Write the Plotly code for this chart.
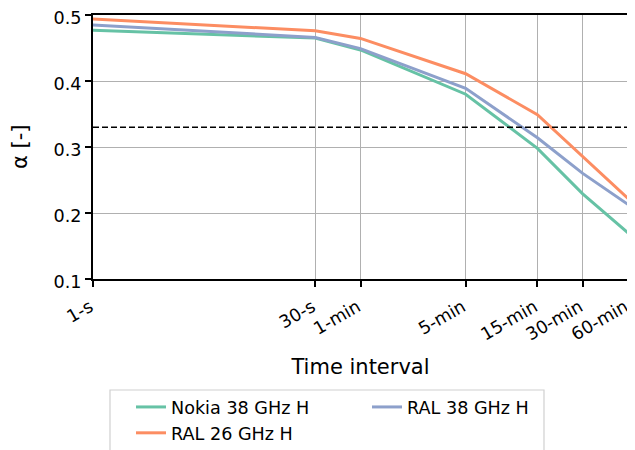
import plotly.graph_objects as go
import math

intervals_s = [1, 30, 60, 300, 900, 1800, 3600]
tick_labels = ["1-s", "30-s", "1-min", "5-min", "15-min", "30-min", "60-min"]
y_ticks = [0.1, 0.2, 0.3, 0.4, 0.5]

nokia_38 = [0.477, 0.465, 0.447, 0.380, 0.298, 0.229, 0.170]
ral_26 = [0.494, 0.476, 0.4645, 0.411, 0.349, 0.286, 0.222]
ral_38 = [0.485, 0.466, 0.449, 0.389, 0.314, 0.260, 0.213]
threshold = 0.33

series_names = ["Nokia 38 GHz H", "RAL 26 GHz H", "RAL 38 GHz H"]
series_values = [nokia_38, ral_26, ral_38]
series_colors = ["#66c2a5", "#fc8d62", "#8da0cb"]
series_legend = ["legend", "legend", "legend2"]

font_family = "DejaVu Sans"
W, H = 635, 450
OFF = 8  # page body offset of the rendered figure
ml, mr, mt, mb = 93 - OFF, 15, 15 - OFF, 450 - (279 - OFF)

fig = go.Figure()
for name, vals, col, lg in zip(series_names, series_values, series_colors, series_legend):
    fig.add_trace(go.Scatter(x=intervals_s, y=vals, mode="lines", name=name,
                             legend=lg, line=dict(color=col, width=3)))

fig.add_trace(go.Scatter(x=[intervals_s[0], intervals_s[-1]], y=[threshold, threshold],
                         mode="lines", showlegend=False, hoverinfo="skip",
                         line=dict(color="black", width=1.5, dash="6px,3px")))

pw = W - ml - mr
ph = H - mt - mb
# legend frame (paper coords)
box_l, box_r, box_t, box_b = 110 - OFF, 544 - OFF, 390 - OFF, 460
fig.add_shape(type="rect", xref="paper", yref="paper",
              x0=(box_l - ml) / pw, x1=(box_r - ml) / pw,
              y0=(H - mb - box_t) / ph, y1=(H - mb - box_b) / ph,
              line=dict(color="#d0d0d0", width=1.2), fillcolor="rgba(0,0,0,0)",
              layer="above")

# y-axis title as rotated text
fig.add_annotation(text="α [-]", xref="paper", yref="paper",
                   x=(20 - OFF - ml) / pw, y=0.5, xanchor="center", yanchor="middle",
                   textangle=-90, showarrow=False, font=dict(size=21))

leg_font = dict(size=17.6, family=font_family, color="black")
fig.update_layout(
    width=W, height=H,
    margin=dict(l=ml, r=mr, t=mt, b=mb, autoexpand=False),
    paper_bgcolor="white", plot_bgcolor="white",
    font=dict(family=font_family, size=17.6, color="black"),
    showlegend=True,
    legend=dict(orientation="v", x=(131 - OFF) / W, xref="container", xanchor="left",
                y=1 - (389 - OFF) / H, yref="container", yanchor="top",
                borderwidth=0, bgcolor="rgba(0,0,0,0)", font=leg_font,
                traceorder="normal", tracegroupgap=0),
    legend2=dict(orientation="v", x=(367 - OFF) / W, xref="container", xanchor="left",
                 y=1 - (389 - OFF) / H, yref="container", yanchor="top",
                 borderwidth=0, bgcolor="rgba(0,0,0,0)", font=leg_font),
)

fig.update_xaxes(type="log", range=[0, math.log10(intervals_s[-1])],
                 tickvals=intervals_s, ticktext=tick_labels, tickangle=-30,
                 showgrid=True, gridcolor="#b0b0b0", gridwidth=1.3,
                 showline=True, linecolor="black", linewidth=2, mirror=True,
                 ticks="outside", ticklen=6, tickwidth=2, tickcolor="black",
                 tickfont=dict(size=17.6), ticklabeloverflow="allow",
                 ticklabelshift=-3, ticklabelstandoff=3,
                 title=dict(text="Time interval", font=dict(size=21), standoff=16),
                 zeroline=False)
fig.update_yaxes(range=[y_ticks[0], y_ticks[-1]], tickvals=y_ticks,
                 ticktext=[f"{v:.1f}" for v in y_ticks],
                 showgrid=True, gridcolor="#b0b0b0", gridwidth=1.3,
                 showline=True, linecolor="black", linewidth=2, mirror=True,
                 ticks="outside", ticklen=6, tickwidth=2, tickcolor="black",
                 tickfont=dict(size=17.6), ticklabeloverflow="allow",
                 ticklabelshift=3,
                 zeroline=False)

fig.write_html("out.html")
